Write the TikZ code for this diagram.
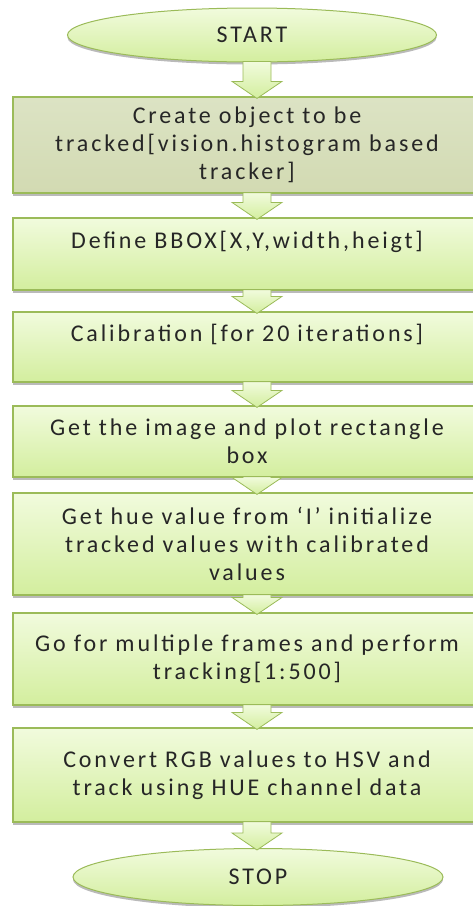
\documentclass[tikz,border=0pt]{standalone}
\usepackage{fontspec}
\setmainfont{Carlito}[LetterSpace=12]
\usetikzlibrary{shapes.geometric,shadows,calc}
\definecolor{gborder}{HTML}{9BBB59}
\definecolor{gtop}{HTML}{F1FBDD}
\definecolor{gbot}{HTML}{D3EE9E}
\definecolor{otop}{HTML}{DCE3C4}
\definecolor{obot}{HTML}{D2DAB2}
\definecolor{txt}{HTML}{262626}
\tikzset{
  x=1pt,y=1pt,
  shadowed/.style={drop shadow={shadow xshift=0pt,shadow yshift=-2.5pt,opacity=0.45,fill=black!60}},
  term/.style={ellipse,draw=gborder,line width=1pt,top color=gtop,bottom color=gbot,
    inner sep=0pt,text=txt,font=\fontsize{24}{28}\selectfont,shadowed},
  stepbox/.style={rectangle,draw=gborder,line width=1.2pt,top color=gtop,bottom color=gbot,
    minimum width=468pt,text width=468pt,align=center,inner sep=0pt,text=txt,
    font=\fontsize{24}{28}\selectfont,shadowed},
  firstbox/.style={stepbox,top color=otop,bottom color=obot},
  blockarrow/.style={draw=gborder,line width=0.8pt,top color=gtop,bottom color=gbot,line join=miter}
}
\newcommand\flowarrow[2]{%
  \path[blockarrow] let \p1=(#1.south), \p2=(#2.north) in
    (243pt,\y1+1pt) -- (271pt,\y1+1pt) -- (271pt,\y2+15pt) -- (282pt,\y2+15pt)
    -- (257pt,\y2-2pt) -- (232pt,\y2+15pt) -- (243pt,\y2+15pt) -- cycle;}
\begin{document}
\begin{tikzpicture}
\useasboundingbox (0,0) rectangle (472,-906);
\node[term,minimum width=369pt,minimum height=54pt] (start) at (252,-35) {START};
\node[firstbox,minimum height=96pt] (b1) at (247,-145) {Create object to be\\tracked[vision.histogram based\\tracker]};
\node[stepbox,minimum height=72pt] (b2) at (247,-254) {Define BBOX[X,Y,width,heigt]\\\mbox{}};
\node[stepbox,minimum height=70pt] (b3) at (247,-347) {Calibration [for 20 iterations]\\\mbox{}};
\node[stepbox,minimum height=71pt] (b4) at (247,-441.5) {Get the image and plot rectangle\\box};
\node[stepbox,minimum height=102pt] (b5) at (247,-544) {Get hue value from ‘I’ initialize\\tracked values with calibrated\\values};
\node[stepbox,minimum height=92pt] (b6) at (247,-659) {Go for multiple frames and perform\\tracking[1:500]};
\node[stepbox,minimum height=94pt] (b7) at (247,-775) {Convert RGB values to HSV and\\track using HUE channel data};
\node[term,minimum width=370pt,minimum height=57pt] (stop) at (258,-877) {STOP};
\flowarrow{start}{b1}
\flowarrow{b1}{b2}
\flowarrow{b2}{b3}
\flowarrow{b3}{b4}
\flowarrow{b4}{b5}
\flowarrow{b5}{b6}
\flowarrow{b6}{b7}
\flowarrow{b7}{stop}
\end{tikzpicture}
\end{document}
